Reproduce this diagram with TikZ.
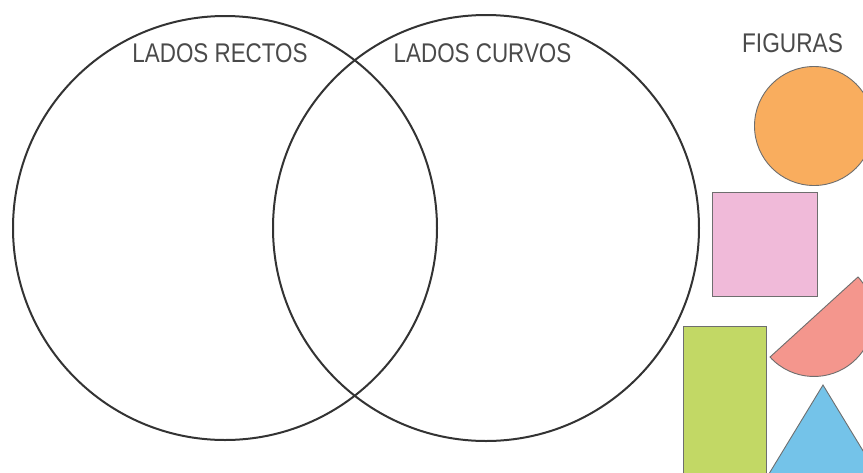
\documentclass[tikz,border=0pt]{standalone}
\usepackage{fontspec}
\setmainfont{Liberation Sans}
\definecolor{ring}{HTML}{333333}
\definecolor{txt}{HTML}{4A4A4A}
\definecolor{edge}{HTML}{6E6E6E}
\definecolor{orangef}{HTML}{F9AD5E}
\definecolor{pinkf}{HTML}{F0BAD9}
\definecolor{greenf}{HTML}{C2D865}
\definecolor{salmonf}{HTML}{F4968D}
\definecolor{bluef}{HTML}{74C3E9}
\begin{document}
\begin{tikzpicture}[x=1pt,y=-1pt,
  venn/.style={circle, draw=ring, line width=2pt, inner sep=0pt, minimum size=#1},
  lbl/.style={text=txt, inner sep=0pt, font=\fontsize{27}{27}\selectfont},
  figshape/.style={draw=edge, line width=0.9pt}]
\useasboundingbox (0,0) rectangle (863,472);
\begin{scope}
\clip (0,0) rectangle (863,472);
\node[figshape, fill=orangef, circle, inner sep=0pt, minimum size=119pt] (circ) at (814,126) {};
\node[figshape, fill=pinkf, rectangle, inner sep=0pt, minimum width=105pt, minimum height=104pt] (sq) at (764.5,244) {};
\node[figshape, fill=greenf, rectangle, inner sep=0pt, minimum width=83pt, minimum height=180pt] (rect) at (724.5,416) {};
\coordinate (semc) at (814,317);
\draw[figshape, fill=salmonf] (semc) ++(-42.3:59.5) arc[start angle=-42.3, end angle=137.7, radius=59.5] -- cycle;
\coordinate (apex) at (823,385);
\draw[figshape, fill=bluef] (apex) -- (764,482) -- (882,482) -- cycle;
\end{scope}
\node[venn=424pt] (left) at (225,228) {};
\node[venn=426pt] (right) at (486,228) {};
\node[lbl] (rectos) at (220,53) {\scalebox{0.83}[1]{LADOS RECTOS}};
\node[lbl] (curvos) at (482.5,53) {\scalebox{0.83}[1]{LADOS CURVOS}};
\node[lbl] (figuras) at (792.5,43) {\scalebox{0.84}[1]{FIGURAS}};
\end{tikzpicture}
\end{document}
